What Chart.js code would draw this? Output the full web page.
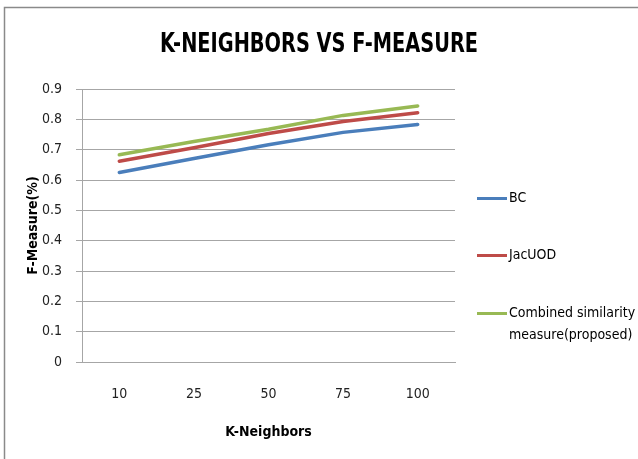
<!DOCTYPE html>
<html>
<head>
<meta charset="utf-8">
<title>K-Neighbors vs F-Measure</title>
<script src="https://cdn.jsdelivr.net/npm/chart.js@4.4.1/dist/chart.umd.min.js"></script>
<style>
  html, body { margin: 0; padding: 0; background: #ffffff; }
  canvas { display: block; }
</style>
</head>
<body>
<canvas id="chart" width="638" height="459"></canvas>
<script>
// ---- chart data ----
const chartTitle = 'K-NEIGHBORS VS F-MEASURE';
const xAxisTitle = 'K-Neighbors';
const yAxisTitle = 'F-Measure(%)';
const kNeighbors = ['10', '25', '50', '75', '100'];
const yTickLabels = ['0', '0.1', '0.2', '0.3', '0.4', '0.5', '0.6', '0.7', '0.8', '0.9'];

const seriesNames = ['BC', 'JacUOD', 'Combined similarity measure(proposed)'];
const legendLines = [['BC'], ['JacUOD'], ['Combined similarity', 'measure(proposed)']];
const bcValues = [0.625, 0.671, 0.716, 0.757, 0.783];
const jacuodValues = [0.662, 0.706, 0.753, 0.793, 0.822];
const combinedValues = [0.683, 0.727, 0.767, 0.813, 0.844];
const seriesColors = ['#4A7EBB', '#BE4B48', '#98B954'];

const FONT = '"Liberation Sans Narrow", "DejaVu Sans Condensed", "Liberation Sans", sans-serif';
const GRID = '#a6a6a6';

// Outer frame and title
const framePlugin = {
  id: 'frame',
  beforeDraw(chart) {
    const ctx = chart.ctx;
    ctx.save();
    ctx.fillStyle = '#ffffff';
    ctx.fillRect(0, 0, chart.width, chart.height);
    ctx.strokeStyle = '#8a8a8a';
    ctx.lineWidth = 1.5;
    ctx.beginPath();
    ctx.moveTo(4.5, chart.height + 2);
    ctx.lineTo(4.5, 7.5);
    ctx.lineTo(chart.width + 2, 7.5);
    ctx.stroke();
    ctx.restore();
  },
  afterDraw(chart) {
    const ctx = chart.ctx;
    ctx.save();
    ctx.fillStyle = '#000000';
    ctx.font = 'bold 27px ' + FONT;
    ctx.textAlign = 'center';
    ctx.textBaseline = 'alphabetic';
    ctx.fillText(chartTitle, 319, 52, 318);
    ctx.restore();
  }
};

// Legend on the right with wrapped labels
const sideLegendPlugin = {
  id: 'sideLegend',
  afterDraw(chart) {
    const ctx = chart.ctx;
    const rows = [198, 255, 313];
    ctx.save();
    ctx.font = '14px ' + FONT;
    ctx.textAlign = 'left';
    ctx.textBaseline = 'middle';
    chart.data.datasets.forEach((ds, i) => {
      const y = rows[i];
      ctx.strokeStyle = ds.borderColor;
      ctx.lineWidth = 3;
      ctx.beginPath();
      ctx.moveTo(477, y + 0.5);
      ctx.lineTo(507, y + 0.5);
      ctx.stroke();
      ctx.fillStyle = '#000000';
      legendLines[i].forEach((line, j) => {
        ctx.fillText(line, 509, y + j * 22);
      });
    });
    ctx.restore();
  }
};

const ctx = document.getElementById('chart').getContext('2d');
new Chart(ctx, {
  type: 'line',
  data: {
    labels: kNeighbors,
    datasets: [
      { label: seriesNames[0], data: bcValues, borderColor: seriesColors[0] },
      { label: seriesNames[1], data: jacuodValues, borderColor: seriesColors[1] },
      { label: seriesNames[2], data: combinedValues, borderColor: seriesColors[2] }
    ].map(d => Object.assign(d, {
      backgroundColor: d.borderColor,
      borderWidth: 3.5,
      pointRadius: 0,
      pointHoverRadius: 0,
      tension: 0,
      fill: false,
      borderCapStyle: 'round',
      borderJoinStyle: 'round'
    }))
  },
  options: {
    responsive: false,
    animation: false,
    devicePixelRatio: 1,
    layout: { padding: { left: 10, top: 89, right: 183, bottom: 10 } },
    plugins: {
      legend: { display: false },
      title: { display: false },
      tooltip: { enabled: false }
    },
    scales: {
      x: {
        offset: true,
        grid: { display: false },
        border: { display: true, color: GRID, width: 1 },
        ticks: { color: '#222222', font: { family: FONT, size: 14 }, padding: 16, maxRotation: 0 },
        title: { display: true, text: xAxisTitle, color: '#000000', font: { family: FONT, size: 14, weight: 'bold' }, padding: { top: 0, bottom: 8 } },
        afterFit(scale) { scale.height = 87; }
      },
      y: {
        min: 0,
        max: 0.9,
        ticks: {
          stepSize: 0.1,
          color: '#222222',
          font: { family: FONT, size: 14 },
          padding: 14,
          callback: (value, index) => yTickLabels[index]
        },
        grid: { color: GRID, lineWidth: 1, drawTicks: true, tickLength: 6 },
        border: { display: true, color: GRID, width: 1 },
        title: { display: true, text: yAxisTitle, color: '#000000', font: { family: FONT, size: 14, weight: 'bold' }, padding: { top: 15, bottom: 0 } },
        afterFit(scale) { scale.width = 72; }
      }
    }
  },
  plugins: [framePlugin, sideLegendPlugin]
});
</script>
</body>
</html>
